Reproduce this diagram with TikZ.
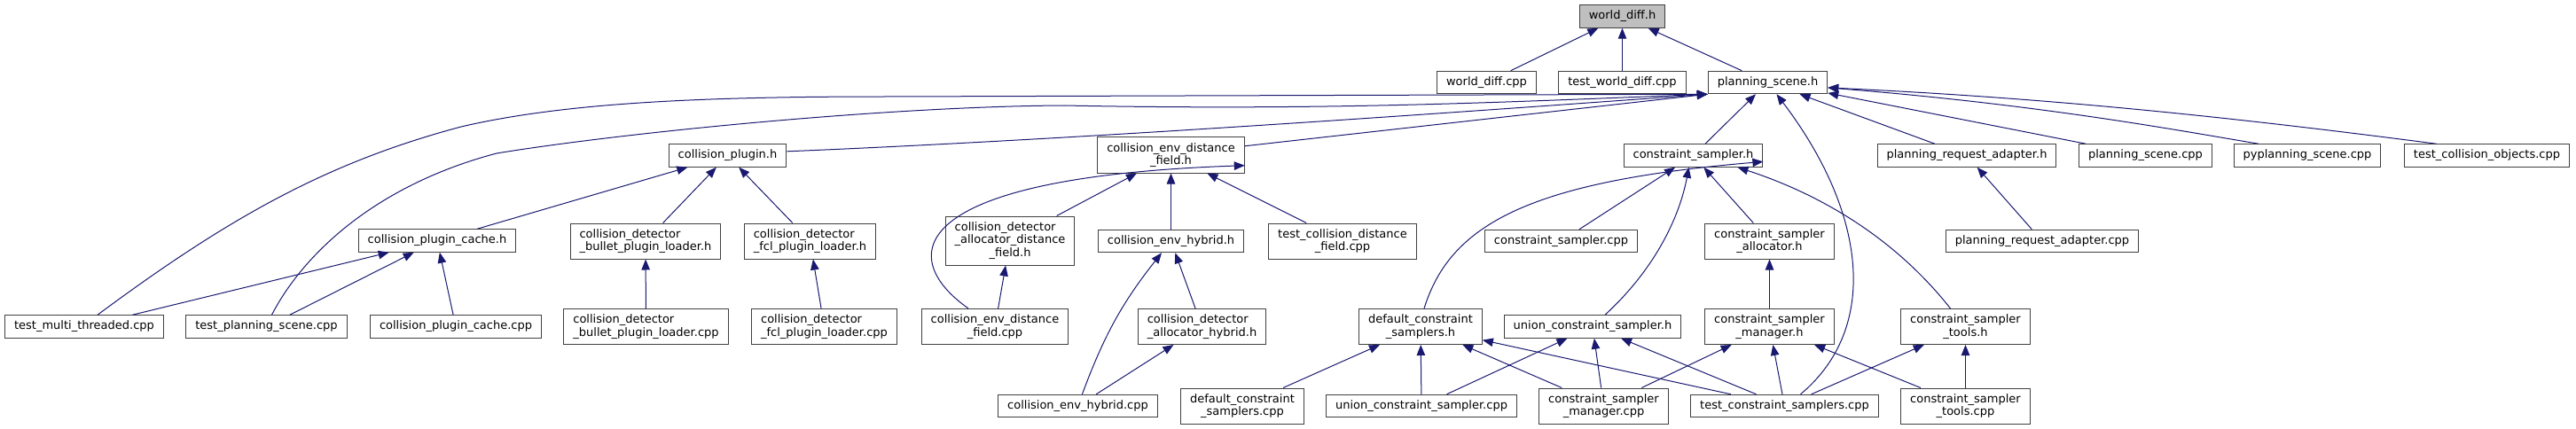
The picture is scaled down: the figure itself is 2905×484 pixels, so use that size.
\documentclass[tikz,border=0pt]{standalone}
\usepackage{fontspec}
\setmainfont{DejaVu Sans}
\usetikzlibrary{arrows.meta}
\definecolor{edgeblue}{HTML}{191970}
\definecolor{boxline}{HTML}{404040}
\definecolor{rootfill}{HTML}{BFBFBF}
\begin{document}
\begin{tikzpicture}[x=1pt,y=-1pt,
  every node/.style={font=\fontsize{13pt}{14.5pt}\selectfont},
  file/.style={draw=boxline, line width=1pt, fill=white, inner xsep=10.5pt, inner ysep=0pt,
    minimum height=25.5pt, text height=9.9pt, text depth=3.1pt},
  file2/.style={draw=boxline, line width=1pt, fill=white, inner xsep=10.5pt, inner ysep=2pt,
    minimum height=40pt, align=center},
  file3/.style={file2, minimum height=55pt},
  inc/.style={draw=edgeblue, line width=1pt, -{Triangle[length=12pt,width=9.5pt]}}]
  \useasboundingbox (0,0) rectangle (2905,484);

  % top
  \node[file, fill=rootfill] (wdh) at (1829.5,18.5) {world\_diff.h};
  \node[file] (wdcpp) at (1676.5,93) {world\_diff.cpp};
  \node[file] (twd) at (1829.5,93) {test\_world\_diff.cpp};
  \node[file] (ps) at (1993.5,93) {planning\_scene.h};

  % second row
  \node[file] (cp) at (820.5,175.5) {collision\_plugin.h};
  \node[file2] (cedf) at (1320.5,175) {collision\_env\_distance\\\_field.h};
  \node[file] (cs) at (1909.5,175.5) {constraint\_sampler.h};
  \node[file] (pra) at (2218,175.5) {planning\_request\_adapter.h};
  \node[file] (pscpp) at (2419.5,175.5) {planning\_scene.cpp};
  \node[file] (pyps) at (2602,175.5) {pyplanning\_scene.cpp};
  \node[file] (tco) at (2804.5,175.5) {test\_collision\_objects.cpp};

  % third row
  \node[file] (cpch) at (493,271.5) {collision\_plugin\_cache.h};
  \node[file2, align=left] (bulh) at (728,272) {collision\_detector\\\_bullet\_plugin\_loader.h};
  \node[file2, align=left] (fclh) at (913.5,272) {collision\_detector\\\_fcl\_plugin\_loader.h};
  \node[file3, align=left] (adfh) at (1139,271.5) {collision\_detector\\\_allocator\_distance\\\hspace*{39pt}\_field.h};
  \node[file] (ceh) at (1320.5,272) {collision\_env\_hybrid.h};
  \node[file2] (tcdf) at (1514,272) {test\_collision\_distance\\\_field.cpp};
  \node[file] (cscpp) at (1760.5,272) {constraint\_sampler.cpp};
  \node[file2] (csa) at (1995.5,272) {constraint\_sampler\\\_allocator.h};
  \node[file] (pracpp) at (2303,272) {planning\_request\_adapter.cpp};

  % fourth row
  \node[file] (tmt) at (95,368.5) {test\_multi\_threaded.cpp};
  \node[file] (tps) at (300.5,368.5) {test\_planning\_scene.cpp};
  \node[file] (cpccpp) at (514,368.5) {collision\_plugin\_cache.cpp};
  \node[file2, align=left] (bulcpp) at (728.5,368.5) {collision\_detector\\\_bullet\_plugin\_loader.cpp};
  \node[file2, align=left] (fclcpp) at (929.5,368.5) {collision\_detector\\\_fcl\_plugin\_loader.cpp};
  \node[file2] (cedfcpp) at (1122,368.5) {collision\_env\_distance\\\_field.cpp};
  \node[file2, align=left] (adhh) at (1355.5,368.5) {collision\_detector\\\_allocator\_hybrid.h};
  \node[file2] (dcsh) at (1602,368.5) {default\_constraint\\\_samplers.h};
  \node[file] (ucsh) at (1796,368.5) {union\_constraint\_sampler.h};
  \node[file2] (csmh) at (1995.5,368.5) {constraint\_sampler\\\_manager.h};
  \node[file2] (csth) at (2216.5,368.5) {constraint\_sampler\\\_tools.h};

  % bottom row
  \node[file] (cehcpp) at (1215.5,458) {collision\_env\_hybrid.cpp};
  \node[file2] (dcscpp) at (1401,458) {default\_constraint\\\_samplers.cpp};
  \node[file] (ucscpp) at (1603,458) {union\_constraint\_sampler.cpp};
  \node[file2] (csmcpp) at (1808.5,458) {constraint\_sampler\\\_manager.cpp};
  \node[file] (tcs) at (2012.5,458) {test\_constraint\_samplers.cpp};
  \node[file2] (cstcpp) at (2216.5,458) {constraint\_sampler\\\_tools.cpp};

  % world_diff.h
  \draw[inc] (wdcpp) -- (wdh);
  \draw[inc] (twd) -- (wdh);
  \draw[inc] (ps) -- (wdh);

  % planning_scene.h
  \draw[inc] ([xshift=15pt]tmt.north) .. controls (260,244) and (370,183) .. (520,143)
    .. controls (640,115) and (800,109) .. (1000,109) -- (ps.south west);
  \draw[inc] ([xshift=6pt]tps.north) .. controls (340,290) and (420,210) .. (560,173)
    .. controls (700,150) and (1000,120) .. (1200,119)
    .. controls (1500,125) and (1700,115) .. (ps.south west);
  \draw[inc] (cp.4) .. controls (1200,158) and (1600,130) .. (ps.south west);
  \draw[inc] (cedf.7) -- (ps.south west);
  \draw[inc] (cs) -- (ps);
  \draw[inc] ([xshift=18pt]tcs.north) .. controls (2120,370) and (2105,240) .. ([xshift=10pt]ps.south);
  \draw[inc] (pra) -- (ps);
  \draw[inc] (pscpp) -- (ps.-10);
  \draw[inc] ([xshift=-55pt]pyps.north) .. controls (2450,146) and (2300,118) .. (ps.-5);
  \draw[inc] ([xshift=-57pt]tco.north) .. controls (2500,130) and (2300,110) .. (ps.-5);

  % collision_plugin.h
  \draw[inc] (cpch) -- (cp);
  \draw[inc] (bulh) -- (cp);
  \draw[inc] (fclh) -- (cp);
  \draw[inc] (tmt) -- (cpch);
  \draw[inc] (tps) -- (cpch);
  \draw[inc] (cpccpp) -- (cpch);
  \draw[inc] (bulcpp) -- (bulh);
  \draw[inc] (fclcpp) -- (fclh);

  % collision_env_distance_field.h
  \draw[inc] ([xshift=-30pt]cedfcpp.north) .. controls (1010,290) and (1020,200) .. (cedf.-8);
  \draw[inc] (adfh) -- (cedf);
  \draw[inc] (ceh) -- (cedf);
  \draw[inc] (tcdf) -- (cedf);
  \draw[inc] (cedfcpp) -- (adfh);
  \draw[inc] (cehcpp) to[bend left=9] (ceh);
  \draw[inc] (adhh) -- (ceh);
  \draw[inc] (cehcpp) -- (adhh);

  % constraint_sampler.h
  \draw[inc] ([xshift=4pt]dcsh.north) .. controls (1635,255) and (1720,205) .. (cs.-5);
  \draw[inc] (cscpp) -- (cs);
  \draw[inc] ([xshift=14pt]ucsh.north) .. controls (1870,300) and (1895,240) .. ([xshift=-5pt]cs.south);
  \draw[inc] (csa) -- (cs);
  \draw[inc] ([xshift=-17pt]csth.north) .. controls (2130,260) and (2040,215) .. ([xshift=50pt]cs.south);
  \draw[inc] (csmh) -- (csa);
  \draw[inc] (pracpp) -- (pra);

  % samplers
  \draw[inc] (dcscpp) -- (dcsh);
  \draw[inc] (ucscpp) -- (dcsh);
  \draw[inc] (csmcpp) -- (dcsh);
  \draw[inc] (tcs) -- (dcsh);
  \draw[inc] (ucscpp) -- (ucsh);
  \draw[inc] (csmcpp) -- (ucsh);
  \draw[inc] (tcs) -- (ucsh);
  \draw[inc] (csmcpp) -- (csmh);
  \draw[inc] (tcs) -- (csmh);
  \draw[inc] (cstcpp) -- (csmh);
  \draw[inc] (tcs) -- (csth);
  \draw[inc] (cstcpp) -- (csth);
\end{tikzpicture}
\end{document}
